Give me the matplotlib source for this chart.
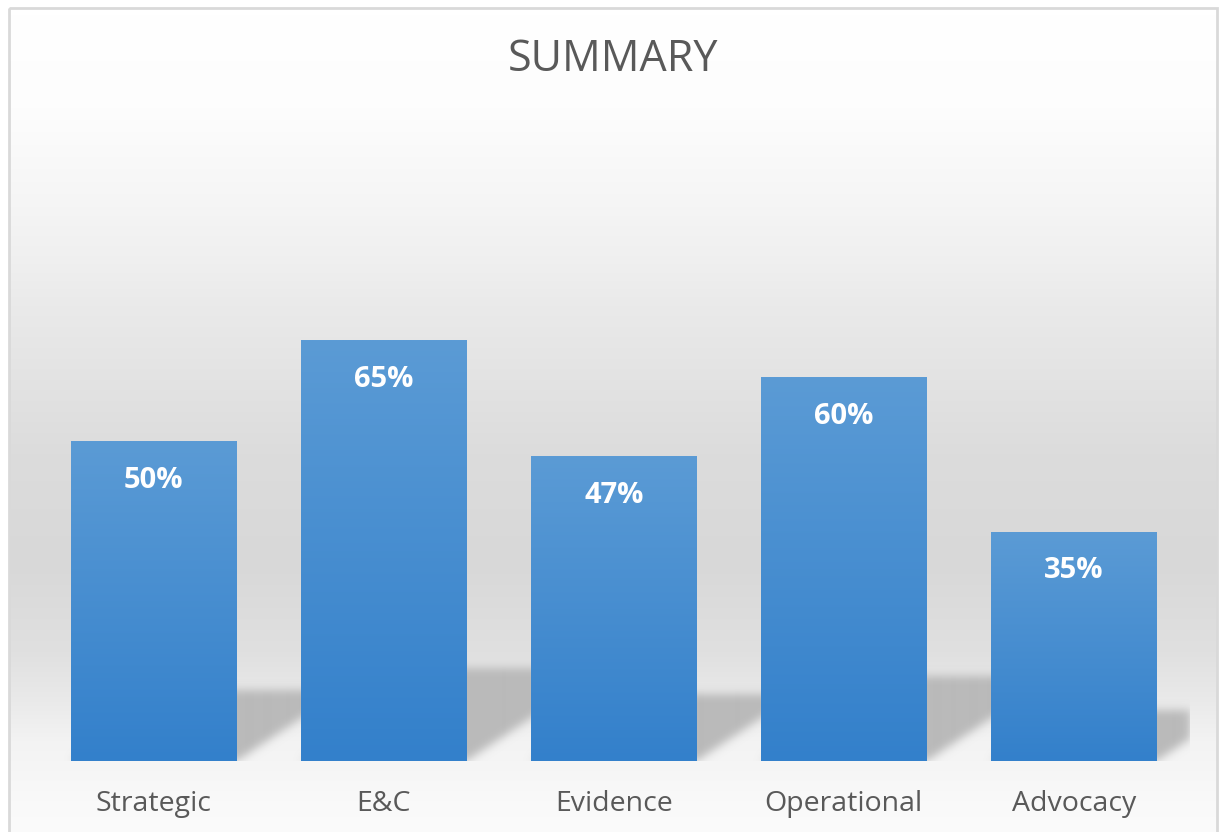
import numpy as np
from matplotlib import pyplot as plt
from matplotlib.colors import LinearSegmentedColormap
from matplotlib.patches import Rectangle

categories = ["Strategic", "E&C", "Evidence", "Operational", "Advocacy"]
# bar heights (percent), and the printed labels
scores = [49.6, 65.3, 47.3, 59.6, 35.6]
score_labels = ["50%", "65%", "47%", "60%", "35%"]
title = "SUMMARY"

W, H = 1219, 832
plt.rcParams['font.family'] = ['Open Sans', 'DejaVu Sans']

fig = plt.figure(figsize=(W / 100, H / 100), dpi=100)

# --- chart area background: white -> grey -> light, as in the office chart
bg = fig.add_axes([0, 0, 1, 1], zorder=0)
bg.set_xlim(0, W)
bg.set_ylim(H, 0)
bg.axis('off')
rows = np.arange(H)
stops_y = [7, 100, 150, 200, 250, 300, 450, 560, 650, 700, 740, 800, 832]
stops_v = [255, 253, 249, 245, 240, 234, 220, 216, 224, 234, 243, 249, 251]
shade = np.interp(rows, stops_y, stops_v) / 255
grad = np.repeat(shade[:, None], 2, axis=1)
bg.imshow(np.dstack([grad, grad, grad]), extent=[9, 1217, H, 8],
          aspect='auto', interpolation='bilinear')
bg.add_patch(Rectangle((9, 8), 1208, H + 10, fill=False,
                       edgecolor='#d9d9d9', linewidth=2))

# --- plot area
ax = fig.add_axes([38.5 / W, 71 / H, (1189 - 38.5) / W, 640 / H], zorder=1)
ax.patch.set_alpha(0)
x = np.arange(len(categories))
bars = ax.bar(x, scores, width=0.72, color='#4a90d2', zorder=2)

xlim = (-0.5, len(categories) - 0.5)
ylim = (0, 99.5)

# perspective shadow behind each bar, blurred
nx, ny = 1150, 640
gx = np.linspace(xlim[0], xlim[1], nx)
gy = np.linspace(ylim[0], ylim[1], ny)
XX, YY = np.meshgrid(gx, gy)
px_x = nx / (xlim[1] - xlim[0])
px_y = ny / (ylim[1] - ylim[0])
mask = np.zeros((ny, nx))
for b in bars:
    sh = 0.22 * b.get_height()
    dx = 1.5 * sh * px_y / px_x
    t = YY / sh
    inside = (YY <= sh) & (XX >= b.get_x() + t * dx) & (XX <= b.get_x() + b.get_width() + t * dx)
    mask[inside] = 1.0
k = np.exp(-0.5 * (np.arange(-12, 13) / 4.5) ** 2)
k /= k.sum()
mask = np.apply_along_axis(lambda r: np.convolve(r, k, mode='same'), 1, mask)
mask = np.apply_along_axis(lambda c: np.convolve(c, k, mode='same'), 0, mask)
shadow = np.zeros((ny, nx, 4))
shadow[..., :3] = 186 / 255
shadow[..., 3] = np.clip(mask, 0, 1)
ax.imshow(shadow, extent=[xlim[0], xlim[1], ylim[0], ylim[1]], origin='lower',
          aspect='auto', zorder=1, interpolation='bilinear')

# gradient fill on the bars
bar_cmap = LinearSegmentedColormap.from_list('bar', ['#3380cb', '#5b9bd5'])
ramp = np.linspace(0, 1, 256)[:, None]
for b in bars:
    ax.imshow(ramp, cmap=bar_cmap, origin='lower', aspect='auto', zorder=2.5,
              extent=[b.get_x(), b.get_x() + b.get_width(), 0, b.get_height()])

for xi, val, lab in zip(x, scores, score_labels):
    ax.text(xi, val - 6.0, lab, ha='center', va='center', color='white',
            fontsize=21, fontweight='bold', zorder=4)

ax.set_xlim(*xlim)
ax.set_ylim(*ylim)
ax.set_xticks(x)
ax.set_xticklabels(categories, fontsize=20.5, color='#595959')
ax.tick_params(axis='x', length=0, pad=21)
ax.set_yticks([])
for s in ax.spines.values():
    s.set_visible(False)

fig.text(613 / W, 1 - 60 / H, title, ha='center', va='center',
         fontsize=31, color='#595959')

fig.savefig('out.png', dpi=100)
